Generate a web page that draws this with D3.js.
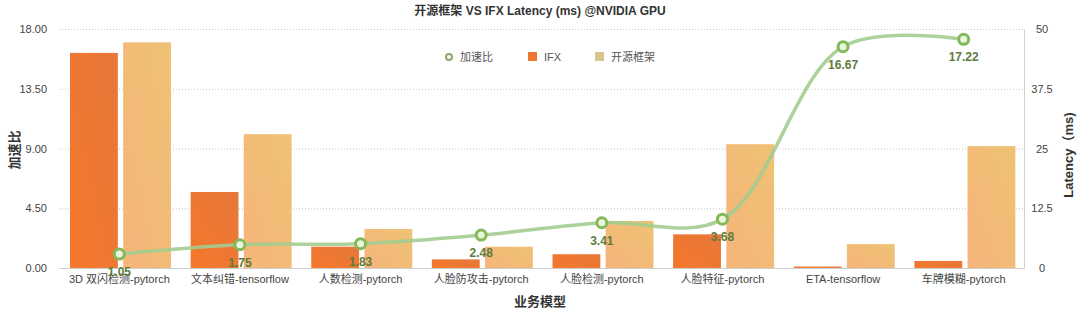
<!DOCTYPE html>
<html>
<head>
<meta charset="utf-8">
<script src="https://cdn.jsdelivr.net/npm/d3@7"></script>
<style>
  body { margin: 0; background: #fff; }
  svg text { font-family: "Liberation Sans", "Noto Sans CJK SC", sans-serif; }
</style>
</head>
<body>
<div id="chart"></div>
<script>
// data
var categories = ["3D 双闪检测-pytorch", "文本纠错-tensorflow", "人数检测-pytorch", "人脸防攻击-pytorch",
                  "人脸检测-pytorch", "人脸特征-pytorch", "ETA-tensorflow", "车牌模糊-pytorch"];
var ifxLatency = [45.0, 15.9, 4.46, 1.8, 2.88, 7.04, 0.3, 1.48];
var openLatency = [47.2, 28.0, 8.16, 4.46, 9.83, 25.9, 5.0, 25.5];
var speedup = [1.05, 1.75, 1.83, 2.48, 3.41, 3.68, 16.67, 17.22];
var leftTicks = [0, 4.5, 9, 13.5, 18];
var rightTicks = [0, 12.5, 25, 37.5, 50];
var seriesNames = ["IFX", "开源框架"];

var W = 1079, H = 309;
var margin = {top: 29, right: 55, bottom: 41, left: 59};
var width = W - margin.left - margin.right,
    height = H - margin.top - margin.bottom;

var svg = d3.select("#chart").append("svg")
    .attr("width", W).attr("height", H);

// gradients for the bars
var defs = svg.append("defs");
function grad(id, c1, c2) {
    var g = defs.append("linearGradient").attr("id", id)
        .attr("x1", "0%").attr("y1", "100%").attr("x2", "100%").attr("y2", "0%");
    g.append("stop").attr("offset", "0%").attr("stop-color", c1);
    g.append("stop").attr("offset", "100%").attr("stop-color", c2);
}
grad("gIfx", "#f5772a", "#e6783a");
grad("gOpen", "#f6b47a", "#eec274");

var g = svg.append("g").attr("transform", "translate(" + margin.left + "," + margin.top + ")");

var x = d3.scaleBand().domain(categories).range([0, width]);
var x1 = d3.scaleBand().domain(seriesNames).range([11, 112]).paddingInner(0.1);
var yL = d3.scaleLinear().domain([0, 18]).range([height, 0]);
var yR = d3.scaleLinear().domain([0, 50]).range([height, 0]);

// gridlines
g.append("g").selectAll("line").data(leftTicks.slice(1)).enter().append("line")
    .attr("x1", 0).attr("x2", width)
    .attr("y1", function(d) { return yL(d) + 0.5; }).attr("y2", function(d) { return yL(d) + 0.5; })
    .attr("stroke", "#c8c8c8").attr("stroke-dasharray", "1,2");

// left axis
var axL = g.append("g").call(d3.axisLeft(yL).tickValues(leftTicks).tickFormat(d3.format(".2f")).tickSize(0).tickPadding(12));
axL.select(".domain").remove();
axL.selectAll("text").attr("font-size", 11).attr("fill", "#444");

// right axis
var axR = g.append("g").attr("transform", "translate(" + width + ",0)")
    .call(d3.axisRight(yR).tickValues(rightTicks).tickFormat(function(d) { return d; }).tickSize(0).tickPadding(18));
axR.select(".domain").attr("stroke", "#d0d0d0");
axR.selectAll("text").attr("font-size", 11).attr("fill", "#444").attr("text-anchor", "middle");

// bottom axis
var axB = g.append("g").attr("transform", "translate(0," + height + ")")
    .call(d3.axisBottom(x).tickSize(0).tickPadding(7));
axB.select(".domain").attr("stroke", "#cfcfcf");
axB.selectAll("text").attr("font-size", 11).attr("fill", "#444");

// bars
var groups = g.append("g").selectAll("g").data(categories).enter().append("g")
    .attr("transform", function(d) { return "translate(" + x(d) + ",0)"; });
groups.append("rect")
    .attr("x", x1("IFX")).attr("width", x1.bandwidth())
    .attr("y", function(d, i) { return yR(ifxLatency[i]); })
    .attr("height", function(d, i) { return height - yR(ifxLatency[i]); })
    .attr("fill", "url(#gIfx)");
groups.append("rect")
    .attr("x", x1("开源框架")).attr("width", x1.bandwidth())
    .attr("y", function(d, i) { return yR(openLatency[i]); })
    .attr("height", function(d, i) { return height - yR(openLatency[i]); })
    .attr("fill", "url(#gOpen)");

// speedup line
var line = d3.line()
    .x(function(d, i) { return x(categories[i]) + x.bandwidth() / 2; })
    .y(function(d) { return yL(d); })
    .curve(d3.curveCatmullRom.alpha(0.5));
g.append("path").datum(speedup)
    .attr("fill", "none").attr("stroke", "#a3cc8f").attr("stroke-width", 3.5)
    .attr("stroke-opacity", 0.9).attr("d", line);

g.append("g").selectAll("circle").data(speedup).enter().append("circle")
    .attr("cx", function(d, i) { return x(categories[i]) + x.bandwidth() / 2; })
    .attr("cy", function(d) { return yL(d); })
    .attr("r", 5)
    .attr("fill", "#eaf6dc").attr("stroke", "#84b95a").attr("stroke-width", 3);

g.append("g").selectAll("text").data(speedup).enter().append("text")
    .attr("x", function(d, i) { return x(categories[i]) + x.bandwidth() / 2; })
    .attr("y", function(d) { return yL(d) + 22; })
    .attr("text-anchor", "middle").attr("font-size", 12).attr("font-weight", "bold")
    .attr("fill", "#5d7b3c")
    .text(function(d) { return d.toFixed(2); });

// titles
svg.append("text").attr("x", 540).attr("y", 15).attr("text-anchor", "middle")
    .attr("font-size", 12).attr("font-weight", "bold").attr("fill", "#333")
    .text("开源框架 VS IFX Latency (ms) @NVIDIA GPU");
svg.append("text").attr("transform", "translate(19,150) rotate(-90)").attr("text-anchor", "middle")
    .attr("font-size", 13).attr("font-weight", "bold").attr("fill", "#333").text("加速比");
svg.append("text").attr("transform", "translate(1073,155) rotate(-90)").attr("text-anchor", "middle")
    .attr("font-size", 13).attr("font-weight", "bold").attr("fill", "#333").text("Latency（ms)");
svg.append("text").attr("x", 540).attr("y", 306).attr("text-anchor", "middle")
    .attr("font-size", 13).attr("font-weight", "bold").attr("fill", "#333").text("业务模型");

// legend
var leg = svg.append("g").attr("transform", "translate(0,57)");
leg.append("circle").attr("cx", 449).attr("cy", 0).attr("r", 3)
    .attr("fill", "#fff").attr("stroke", "#8aa86a").attr("stroke-width", 2);
leg.append("text").attr("x", 460).attr("y", 4).attr("font-size", 11).attr("fill", "#555").text("加速比");
leg.append("rect").attr("x", 528).attr("y", -5).attr("width", 9).attr("height", 9).attr("fill", "url(#gIfx)");
leg.append("text").attr("x", 544).attr("y", 4).attr("font-size", 11).attr("fill", "#555").text("IFX");
leg.append("rect").attr("x", 595).attr("y", -5).attr("width", 9).attr("height", 9).attr("fill", "#d8c68d");
leg.append("text").attr("x", 611).attr("y", 4).attr("font-size", 11).attr("fill", "#555").text("开源框架");
</script>
</body>
</html>
